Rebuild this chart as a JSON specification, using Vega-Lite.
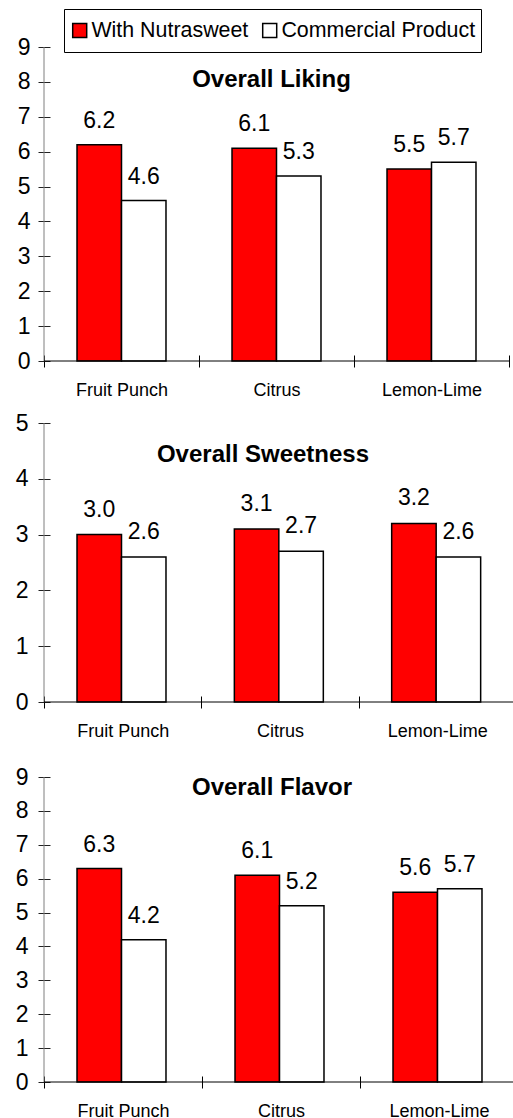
{
  "$schema": "https://vega.github.io/schema/vega-lite/v6.json",
  "padding": {"top": 8, "left": 15, "right": 0, "bottom": 0},
  "background": "white",
  "config": {
    "view": {"stroke": null},
    "font": "Liberation Sans",
    "axis": {"grid": false, "title": null, "labelColor": "black", "labelFont": "Liberation Sans"},
    "axisLeft": {"domain": false, "tickSize": 12, "offset": -6, "labelFontSize": 23, "tickColor": "#222", "tickCount": 10, "tickMinStep": 1, "labelOverlap": false},
    "axisBottom": {"domain": false, "tickSize": 12, "offset": -6, "labelFontSize": 18, "labelPadding": 14, "labelAngle": 0, "tickBand": "extent", "tickColor": "black"},
    "title": {"font": "Liberation Sans", "color": "black"}
  },
  "datasets": {
    "scores": [
      {"measure": "Liking", "flavor": "Fruit Punch", "product": "With Nutrasweet", "value": 6.2},
      {"measure": "Liking", "flavor": "Fruit Punch", "product": "Commercial Product", "value": 4.6},
      {"measure": "Liking", "flavor": "Citrus", "product": "With Nutrasweet", "value": 6.1},
      {"measure": "Liking", "flavor": "Citrus", "product": "Commercial Product", "value": 5.3},
      {"measure": "Liking", "flavor": "Lemon-Lime", "product": "With Nutrasweet", "value": 5.5},
      {"measure": "Liking", "flavor": "Lemon-Lime", "product": "Commercial Product", "value": 5.7},
      {"measure": "Sweetness", "flavor": "Fruit Punch", "product": "With Nutrasweet", "value": 3.0},
      {"measure": "Sweetness", "flavor": "Fruit Punch", "product": "Commercial Product", "value": 2.6},
      {"measure": "Sweetness", "flavor": "Citrus", "product": "With Nutrasweet", "value": 3.1},
      {"measure": "Sweetness", "flavor": "Citrus", "product": "Commercial Product", "value": 2.7},
      {"measure": "Sweetness", "flavor": "Lemon-Lime", "product": "With Nutrasweet", "value": 3.2},
      {"measure": "Sweetness", "flavor": "Lemon-Lime", "product": "Commercial Product", "value": 2.6},
      {"measure": "Flavor", "flavor": "Fruit Punch", "product": "With Nutrasweet", "value": 6.3},
      {"measure": "Flavor", "flavor": "Fruit Punch", "product": "Commercial Product", "value": 4.2},
      {"measure": "Flavor", "flavor": "Citrus", "product": "With Nutrasweet", "value": 6.1},
      {"measure": "Flavor", "flavor": "Citrus", "product": "Commercial Product", "value": 5.2},
      {"measure": "Flavor", "flavor": "Lemon-Lime", "product": "With Nutrasweet", "value": 5.6},
      {"measure": "Flavor", "flavor": "Lemon-Lime", "product": "Commercial Product", "value": 5.7}
    ],
    "axisline": [{"line": "axis"}]
  },
  "resolve": {"legend": {"fill": "independent"}},
  "spacing": 26,
  "vconcat": [
    {
      "resolve": {"legend": {"fill": "independent"}},
      "spacing": 13,
      "vconcat": [
        {
          "width": 465,
          "height": 314,
          "title": {"text": "Overall Liking", "fontSize": 24, "fontWeight": "bold", "anchor": "middle", "frame": "group", "orient": "top", "baseline": "alphabetic", "offset": 0, "dy": 102, "dx": -5},
          "layer": [
            {
              "data": {"name": "scores"},
              "transform": [{"filter": "datum.measure === 'Liking'"}],
              "mark": {"type": "bar", "stroke": "black", "strokeWidth": 1.5},
              "encoding": {
                "x": {"field": "flavor", "type": "nominal", "sort": ["Fruit Punch", "Citrus", "Lemon-Lime"], "scale": {"paddingInner": 0, "paddingOuter": 0}},
                "xOffset": {"field": "product", "type": "nominal", "sort": ["With Nutrasweet", "Commercial Product"], "scale": {"paddingInner": 0, "paddingOuter": 0.742}},
                "y": {"field": "value", "type": "quantitative", "scale": {"domain": [0, 9], "nice": false, "zero": true},
                  "axis": {"values": [0,1,2,3,4,5,6,7,8,9], "labelPadding": 8, "labelFontSize": 23}},
                "fill": {"field": "product", "type": "nominal", "sort": ["With Nutrasweet", "Commercial Product"],
                  "scale": {"domain": ["With Nutrasweet", "Commercial Product"], "range": ["#FF0000", "#FFFFFF"]},
                  "legend": {"orient": "none", "legendX": 20, "legendY": -38, "direction": "horizontal", "title": null,
                    "fillColor": "white", "strokeColor": "black", "padding": 5,
                    "symbolType": "square", "symbolSize": 196, "symbolStrokeColor": "black", "symbolStrokeWidth": 1.5, "symbolOpacity": 1,
                    "labelFont": "Liberation Sans", "labelFontSize": 21.4, "labelColor": "black", "labelOffset": 1, "columnPadding": 10, "clipHeight": 33, "labelLimit": 400}}
              }
            },
            {
              "data": {"name": "scores"},
              "transform": [{"filter": "datum.measure === 'Liking'"}],
              "mark": {"type": "text", "dy": -17, "baseline": "alphabetic", "fontSize": 23, "color": "black"},
              "encoding": {
                "x": {"field": "flavor", "type": "nominal", "sort": ["Fruit Punch", "Citrus", "Lemon-Lime"]},
                "xOffset": {"field": "product", "type": "nominal", "sort": ["With Nutrasweet", "Commercial Product"]},
                "y": {"field": "value", "type": "quantitative"},
                "text": {"field": "value", "type": "quantitative", "format": ".1f"}
              }
            },
            {
              "data": {"name": "axisline"},
              "mark": {"type": "rule", "color": "#7f7f7f", "strokeWidth": 1},
              "encoding": {"x": {"datum": "Fruit Punch", "type": "nominal", "bandPosition": 0}}
            },
            {
              "data": {"name": "axisline"},
              "mark": {"type": "rule", "color": "black", "strokeWidth": 1},
              "encoding": {"y": {"datum": 0, "type": "quantitative"}}
            }
          ]
        },
        {
          "width": 472,
          "height": 279,
          "title": {"text": "Overall Sweetness", "fontSize": 24, "fontWeight": "bold", "anchor": "middle", "frame": "group", "orient": "top", "baseline": "alphabetic", "offset": 0, "dy": 74, "dx": -17},
          "layer": [
            {
              "data": {"name": "scores"},
              "transform": [{"filter": "datum.measure === 'Sweetness'"}],
              "mark": {"type": "bar", "stroke": "black", "strokeWidth": 1.5},
              "encoding": {
                "x": {"field": "flavor", "type": "nominal", "sort": ["Fruit Punch", "Citrus", "Lemon-Lime"], "scale": {"paddingInner": 0, "paddingOuter": 0}},
                "xOffset": {"field": "product", "type": "nominal", "sort": ["With Nutrasweet", "Commercial Product"], "scale": {"paddingInner": 0, "paddingOuter": 0.76}},
                "y": {"field": "value", "type": "quantitative", "scale": {"domain": [0, 5], "nice": false, "zero": true},
                  "axis": {"values": [0,1,2,3,4,5], "labelPadding": 10, "labelFontSize": 23}},
                "fill": {"field": "product", "type": "nominal", "sort": ["With Nutrasweet", "Commercial Product"],
                  "scale": {"domain": ["With Nutrasweet", "Commercial Product"], "range": ["#FF0000", "#FFFFFF"]}, "legend": null}
              }
            },
            {
              "data": {"name": "scores"},
              "transform": [{"filter": "datum.measure === 'Sweetness'"}],
              "mark": {"type": "text", "dy": -18, "baseline": "alphabetic", "fontSize": 23, "color": "black"},
              "encoding": {
                "x": {"field": "flavor", "type": "nominal", "sort": ["Fruit Punch", "Citrus", "Lemon-Lime"]},
                "xOffset": {"field": "product", "type": "nominal", "sort": ["With Nutrasweet", "Commercial Product"]},
                "y": {"field": "value", "type": "quantitative"},
                "text": {"field": "value", "type": "quantitative", "format": ".1f"}
              }
            },
            {
              "data": {"name": "axisline"},
              "mark": {"type": "rule", "color": "#7f7f7f", "strokeWidth": 1},
              "encoding": {"x": {"datum": "Fruit Punch", "type": "nominal", "bandPosition": 0}}
            },
            {
              "data": {"name": "axisline"},
              "mark": {"type": "rule", "color": "black", "strokeWidth": 1},
              "encoding": {"y": {"datum": 0, "type": "quantitative"}}
            }
          ]
        }
      ]
    },
    {
      "width": 474,
      "height": 305,
      "title": {"text": "Overall Flavor", "fontSize": 24, "fontWeight": "bold", "anchor": "middle", "frame": "group", "orient": "top", "baseline": "alphabetic", "offset": 0, "dy": 53, "dx": -9},
      "layer": [
        {
          "data": {"name": "scores"},
          "transform": [{"filter": "datum.measure === 'Flavor'"}],
          "mark": {"type": "bar", "stroke": "black", "strokeWidth": 1.5},
          "encoding": {
            "x": {"field": "flavor", "type": "nominal", "sort": ["Fruit Punch", "Citrus", "Lemon-Lime"], "scale": {"paddingInner": 0, "paddingOuter": 0}},
            "xOffset": {"field": "product", "type": "nominal", "sort": ["With Nutrasweet", "Commercial Product"], "scale": {"paddingInner": 0, "paddingOuter": 0.76}},
            "y": {"field": "value", "type": "quantitative", "scale": {"domain": [0, 9], "nice": false, "zero": true},
              "axis": {"values": [0,1,2,3,4,5,6,7,8,9], "labelPadding": 10, "labelFontSize": 23}},
            "fill": {"field": "product", "type": "nominal", "sort": ["With Nutrasweet", "Commercial Product"],
              "scale": {"domain": ["With Nutrasweet", "Commercial Product"], "range": ["#FF0000", "#FFFFFF"]}, "legend": null}
          }
        },
        {
          "data": {"name": "scores"},
          "transform": [{"filter": "datum.measure === 'Flavor'"}],
          "mark": {"type": "text", "dy": -17, "baseline": "alphabetic", "fontSize": 23, "color": "black"},
          "encoding": {
            "x": {"field": "flavor", "type": "nominal", "sort": ["Fruit Punch", "Citrus", "Lemon-Lime"]},
            "xOffset": {"field": "product", "type": "nominal", "sort": ["With Nutrasweet", "Commercial Product"]},
            "y": {"field": "value", "type": "quantitative"},
            "text": {"field": "value", "type": "quantitative", "format": ".1f"}
          }
        },
        {
          "data": {"name": "axisline"},
          "mark": {"type": "rule", "color": "#7f7f7f", "strokeWidth": 1},
          "encoding": {"x": {"datum": "Fruit Punch", "type": "nominal", "bandPosition": 0}}
        },
        {
          "data": {"name": "axisline"},
          "mark": {"type": "rule", "color": "black", "strokeWidth": 1},
          "encoding": {"y": {"datum": 0, "type": "quantitative"}}
        }
      ]
    }
  ]
}
